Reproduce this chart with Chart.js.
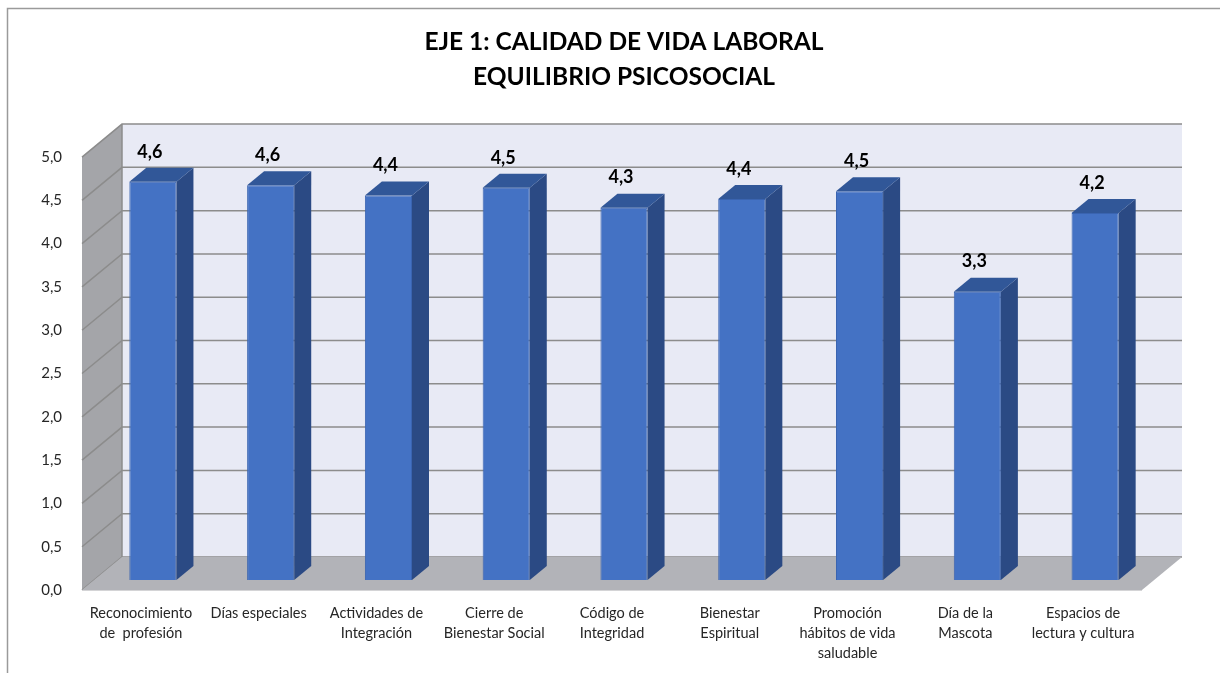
<!DOCTYPE html>
<html>
<head>
<meta charset="utf-8">
<script src="https://cdn.jsdelivr.net/npm/chart.js@4.4.1/dist/chart.umd.min.js"></script>
<style>
  html, body { margin: 0; padding: 0; background: #fff; }
  #wrap { position: relative; width: 1220px; height: 673px; }
</style>
</head>
<body>
<div id="wrap"><canvas id="ejeChart" width="1220" height="673"></canvas></div>
<script>
const categories = [
  ['Reconocimiento', 'de  profesión'],
  ['Días especiales'],
  ['Actividades de', 'Integración'],
  ['Cierre de', 'Bienestar Social'],
  ['Código de', 'Integridad'],
  ['Bienestar', 'Espiritual'],
  ['Promoción', 'hábitos de vida', 'saludable'],
  ['Día de la', 'Mascota'],
  ['Espacios de', 'lectura y cultura']
];
const scores = [4.6, 4.56, 4.44, 4.53, 4.3, 4.4, 4.49, 3.33, 4.24];
const yTicks = [0, 0.5, 1, 1.5, 2, 2.5, 3, 3.5, 4, 4.5, 5];
const titleLines = ['EJE 1: CALIDAD DE VIDA LABORAL', 'EQUILIBRIO PSICOSOCIAL'];

const FONT = 'Lato, "Open Sans", sans-serif';
// depth offsets relative to the plane where the bars' front faces sit
const FRONT = { dx: -12, dy: 10 };
const BACK = { dx: 28, dy: -23 };
const BAR_DEPTH = { dx: 17, dy: -14 };

function fmt(v) {
  return v.toFixed(1).replace('.', ',');
}

// back wall, left wall, floor and gridlines
const walls3d = {
  id: 'walls3d',
  beforeDatasetsDraw(chart) {
    const ctx = chart.ctx;
    const a = chart.chartArea;
    const y = chart.scales.y;
    const top = y.getPixelForValue(5), bot = y.getPixelForValue(0);
    ctx.save();
    // outer border (top + left only)
    ctx.strokeStyle = '#9a9a9a';
    ctx.lineWidth = 1.5;
    ctx.beginPath();
    ctx.moveTo(7.5, 673); ctx.lineTo(7.5, 8.5); ctx.lineTo(1220, 8.5);
    ctx.stroke();

    // back wall
    ctx.fillStyle = '#e8eaf5';
    ctx.fillRect(a.left + BACK.dx, top + BACK.dy, a.right - a.left, bot - top);
    // left wall
    ctx.fillStyle = '#a4a5a9';
    ctx.beginPath();
    ctx.moveTo(a.left + FRONT.dx, bot + FRONT.dy);
    ctx.lineTo(a.left + FRONT.dx, top + FRONT.dy);
    ctx.lineTo(a.left + BACK.dx, top + BACK.dy);
    ctx.lineTo(a.left + BACK.dx, bot + BACK.dy);
    ctx.closePath();
    ctx.fill();
    // gridlines
    ctx.strokeStyle = '#8c8c8c';
    ctx.lineWidth = 1.5;
    yTicks.forEach(t => {
      const py = y.getPixelForValue(t);
      ctx.beginPath();
      ctx.moveTo(a.left + FRONT.dx, py + FRONT.dy);
      ctx.lineTo(a.left + BACK.dx, py + BACK.dy);
      ctx.lineTo(a.right + BACK.dx, py + BACK.dy);
      ctx.stroke();
    });
    ctx.beginPath();
    ctx.moveTo(a.left + BACK.dx, bot + BACK.dy);
    ctx.lineTo(a.left + BACK.dx, top + BACK.dy);
    ctx.stroke();
    // floor
    ctx.fillStyle = '#b2b3b8';
    ctx.beginPath();
    ctx.moveTo(a.left + FRONT.dx, bot + FRONT.dy);
    ctx.lineTo(a.right + FRONT.dx, bot + FRONT.dy);
    ctx.lineTo(a.right + BACK.dx, bot + BACK.dy);
    ctx.lineTo(a.left + BACK.dx, bot + BACK.dy);
    ctx.closePath();
    ctx.fill();
    ctx.strokeStyle = '#d4d4d6';
    ctx.lineWidth = 1;
    ctx.beginPath();
    ctx.moveTo(a.left + FRONT.dx, bot + FRONT.dy + 0.5);
    ctx.lineTo(a.right + FRONT.dx, bot + FRONT.dy + 0.5);
    ctx.stroke();
    ctx.restore();
  },
  afterDatasetsDraw(chart) {
    const ctx = chart.ctx;
    const meta = chart.getDatasetMeta(0);
    ctx.save();
    meta.data.forEach((bar, i) => {
      const left = bar.x - bar.width / 2, right = bar.x + bar.width / 2;
      // side face
      ctx.fillStyle = '#2b4a84';
      ctx.beginPath();
      ctx.moveTo(right, bar.base);
      ctx.lineTo(right, bar.y);
      ctx.lineTo(right + BAR_DEPTH.dx, bar.y + BAR_DEPTH.dy);
      ctx.lineTo(right + BAR_DEPTH.dx, bar.base + BAR_DEPTH.dy);
      ctx.closePath();
      ctx.fill();
      // top face
      ctx.fillStyle = '#315798';
      ctx.beginPath();
      ctx.moveTo(left, bar.y);
      ctx.lineTo(right, bar.y);
      ctx.lineTo(right + BAR_DEPTH.dx, bar.y + BAR_DEPTH.dy);
      ctx.lineTo(left + BAR_DEPTH.dx, bar.y + BAR_DEPTH.dy);
      ctx.closePath();
      ctx.fill();
      // value label
      ctx.fillStyle = '#000';
      ctx.font = 'bold 18px ' + FONT;
      ctx.textAlign = 'center';
      ctx.textBaseline = 'middle';
      ctx.fillText(fmt(scores[i]), bar.x - 3, bar.y - 30);
    });
    ctx.restore();
  }
};

new Chart(document.getElementById('ejeChart'), {
  type: 'bar',
  data: {
    labels: categories,
    datasets: [{
      data: scores,
      backgroundColor: '#4472c4',
      borderColor: '#3a64b0',
      borderWidth: 1,
      barPercentage: 0.4,
      categoryPercentage: 1
    }]
  },
  options: {
    responsive: false,
    animation: false,
    layout: { padding: { left: 0, right: 66, top: 0, bottom: 0 } },
    plugins: {
      legend: { display: false },
      tooltip: { enabled: false },
      title: {
        display: true,
        fullSize: false,
        text: titleLines,
        color: '#000',
        font: { family: FONT, size: 24.5, weight: 'bold', lineHeight: 1.43 },
        padding: { top: 25, bottom: 52 }
      }
    },
    scales: {
      x: {
        grid: { display: false },
        border: { display: false },
        ticks: {
          color: '#262626',
          font: { family: FONT, size: 14.5, lineHeight: 1.35 },
          padding: 16,
          labelOffset: -12,
          maxRotation: 0,
          autoSkip: false
        },
        afterFit(scale) { scale.height = 93; }
      },
      y: {
        min: 0,
        max: 5,
        grid: { display: false },
        border: { display: false },
        afterBuildTicks(scale) { scale.ticks = yTicks.map(v => ({ value: v })); },
        afterFit(scale) { scale.width = 94; },
        ticks: {
          color: '#262626',
          font: { family: FONT, size: 15 },
          padding: 24,
          labelOffset: 10,
          callback: v => fmt(v)
        }
      }
    }
  },
  plugins: [walls3d]
});
</script>
</body>
</html>
